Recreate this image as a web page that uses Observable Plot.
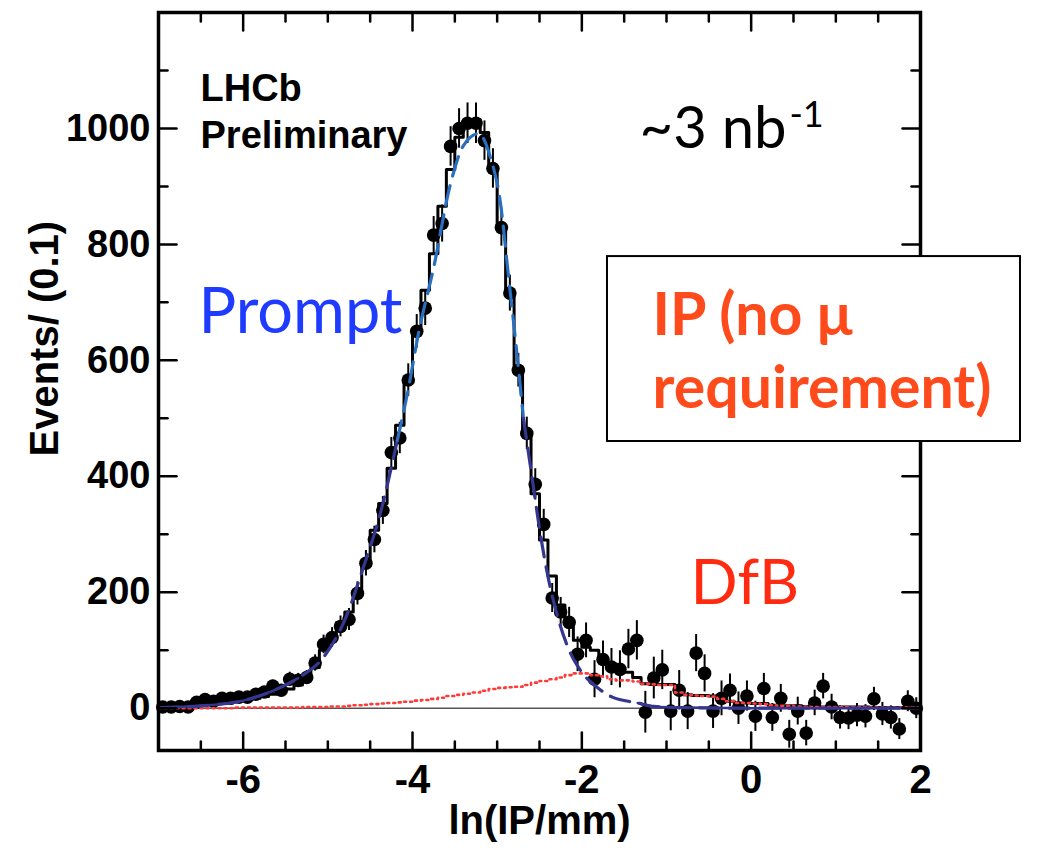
<!DOCTYPE html>
<html><head><meta charset="utf-8">
<script src="https://cdn.jsdelivr.net/npm/d3@7"></script>
<script src="https://cdn.jsdelivr.net/npm/@observablehq/plot@0.6"></script>
<style>html,body{margin:0;padding:0;background:#fff;}</style>
</head><body><div id="chart"></div>
<script>
// ---- data ----
const binStart = -7, binWidth = 0.1;
const dataCounts = [
  2,2,3,2,10,15,12,17,17,19,
  19,24,28,38,31,50,48,53,78,110,
  122,141,153,198,250,291,341,441,466,566,
  650,690,816,836,969,1000,1009,1009,979,931,
  829,716,583,474,386,317,190,166,148,93,
  117,50,84,71,67,102,117,-7,52,66,
  -5,31,-5,95,60,-5,17,31,0,21,
  -14,34,-16,17,-45,-5,-43,9,38,2,
  -16,-17,-12,-14,16,-10,-16,-36,12,0];
const dataErrors = [
  5,5,5,5,6,7,6,7,7,8,
  8,9,9,10,10,12,12,12,14,16,
  17,18,19,20,22,23,24,26,27,28,
  29,30,32,32,34,34,35,35,34,34,
  32,31,29,28,27,26,25,25,26,30,
  30,32,32,32,32,34,34,36,36,34,
  34,34,32,32,32,30,30,28,28,26,
  26,26,24,24,24,24,22,22,22,22,
  20,20,20,20,20,20,20,18,18,18];
const totalHist = [
  2,3,4,5,6,7,8,10,11,13,
  15,17,20,24,28,33,40,52,70,100,
  125,148,166,203,255,307,353,414,488,566,
  652,721,784,866,929,985,1005,1015,993,930,
  829,717,588,476,370,290,228,178,150,117,
  105,100,80,76,64,62,53,42,41,41,
  41,28,23,22,22,21,16,12,9,9,
  8,8,5,4,4,4,3,2,2,2,
  2,2,2,2,1,1,1,1,1,1];
const dfbHist = [
  0,0,0,0,0,0,0,0,0,1,
  1,1,1,1,1,1,1,2,2,2,
  3,3,4,5,6,7,8,9,10,11,
  13,14,16,18,21,23,25,27,30,33,
  35,36,37,40,44,47,50,53,57,60,
  60,57,55,50,48,48,46,42,41,40,
  40,27,23,22,21,20,16,12,9,9,
  8,7,5,4,4,3,3,2,2,2,
  2,2,2,2,1,1,1,1,1,1];
const fitX = [-7.0,-6.5,-6.0,-5.65,-5.35,-5.05,-4.8,-4.58,-4.38,-4.18,-4.05,-3.93,-3.75,-3.55,-3.4,-3.22,-3.08,-2.96,-2.87,-2.78,-2.69,-2.58,-2.49,-2.39,-2.28,-2.15,-2.02,-1.82,-1.64,-1.34,-1.15,-0.8,0,1,2];
const fitY = [1,4,13,30,52,88,152,243,336,462,550,646,760,905,970,991,950,870,750,630,500,390,300,220,155,100,66,36,19,9,3,1,0,0,0];
const xMajorTicks = [-6,-4,-2,0,2];
const xMinorTicks = [-6.5,-5.5,-5,-4.5,-3.5,-3,-2.5,-1.5,-1,-0.5,0.5,1,1.5];
const yMajorTicks = [0,200,400,600,800,1000];
const yMinorTicks = [100,300,500,700,900,1100];

// ---- derived tables ----
const xMin = -7, xMax = 2, yMin = -73, yMax = 1200;
const points = dataCounts.map((v, i) => ({x: binStart + (i + 0.5) * binWidth, y: v, e: dataErrors[i]}));
const stepTable = arr => arr.map((v, i) => ({x: binStart + i * binWidth, y: v}))
  .concat([{x: binStart + arr.length * binWidth, y: arr[arr.length - 1]}]);
const totalPts = stepTable(totalHist);
const dfbPts = stepTable(dfbHist);
const fitPts = fitX.map((x, i) => ({x, y: fitY[i]}));
const k1 = fitPts.findIndex(d => d.y >= 420);
let k2 = fitPts.length - 1; while (fitPts[k2].y < 420) k2--;
const fitLeft = fitPts.slice(0, k1 + 1), fitMid = fitPts.slice(k1, k2 + 1), fitRight = fitPts.slice(k2);

const tickShape = {draw(ctx, l) { ctx.moveTo(0, 0); ctx.lineTo(0, -l); }};
const tickMarks = (vals, len, side) => Plot.vector(vals, {
  x: side === "bottom" || side === "top" ? d => d : (side === "left" ? xMin : xMax),
  y: side === "left" || side === "right" ? d => d : (side === "bottom" ? yMin : yMax),
  length: len, rotate: {bottom: 0, top: 180, left: 90, right: 270}[side],
  anchor: "start", shape: tickShape, stroke: "black", strokeWidth: 2.5
});

const navy = "#35378f", steel = "#2a6fbd";
const sans = "'Liberation Sans', Arial, Helvetica, sans-serif";
const humanist = "Lato, 'Open Sans', sans-serif";

const chart = Plot.plot({
  width: 1053, height: 848,
  marginLeft: 158, marginRight: 133, marginTop: 12, marginBottom: 98,
  x: {domain: [xMin, xMax]},
  y: {domain: [yMin, yMax]},
  style: {fontFamily: sans, background: "#fff", color: "#000", overflow: "visible"},
  marks: [
    Plot.ruleY([0], {stroke: "black", strokeWidth: 1}),
    Plot.line(totalPts, {x: "x", y: "y", curve: "step-after", stroke: "black", strokeWidth: 3}),
    Plot.ruleX(points, {x: "x", y1: d => d.y - d.e, y2: d => d.y + d.e, stroke: "black", strokeWidth: 2}),
    Plot.dot(points, {x: "x", y: "y", r: 6.8, fill: "black"}),
    Plot.line(dfbPts, {x: "x", y: "y", curve: "step-after", stroke: "#ff3a3a", strokeWidth: 2.6, strokeDasharray: "2,4"}),
    Plot.line(fitPts.filter(d => d.x <= -5.3), {x: "x", y: "y", curve: "monotone-x", stroke: navy, strokeWidth: 2.5}),
    Plot.line(fitPts.filter(d => d.x >= -1.34), {x: "x", y: "y", curve: "monotone-x", stroke: navy, strokeWidth: 2.5}),
    Plot.line(fitLeft, {x: "x", y: "y", curve: "monotone-x", stroke: navy, strokeWidth: 3.2, strokeDasharray: "20,10"}),
    Plot.line(fitMid, {x: "x", y: "y", curve: "monotone-x", stroke: steel, strokeWidth: 3.2, strokeDasharray: "20,10"}),
    Plot.line(fitRight, {x: "x", y: "y", curve: "monotone-x", stroke: navy, strokeWidth: 3.2, strokeDasharray: "20,10"}),
    Plot.frame({stroke: "black", strokeWidth: 3.5}),
    tickMarks(xMajorTicks, 18, "bottom"), tickMarks(xMinorTicks, 9, "bottom"),
    tickMarks(xMajorTicks, 18, "top"), tickMarks(xMinorTicks, 9, "top"),
    tickMarks(yMajorTicks, 18, "left"), tickMarks(yMinorTicks, 9, "left"),
    tickMarks(yMajorTicks, 18, "right"), tickMarks(yMinorTicks, 9, "right"),
    Plot.axisX(xMajorTicks, {anchor: "bottom", tickSize: 0, tickPadding: 14, tickFormat: d => String(d), fontSize: 40, fontWeight: "bold", label: null}),
    Plot.axisY(yMajorTicks, {anchor: "left", tickSize: 0, tickPadding: 8, tickFormat: d => String(d), fontSize: 38, fontWeight: "bold", label: null}),
    Plot.text(["ln(IP/mm)"], {frameAnchor: "bottom", dy: 83, lineAnchor: "bottom", text: d => d, fontSize: 40, fontWeight: "bold"}),
    Plot.text(["Events/ (0.1)"], {frameAnchor: "left", dx: -113, dy: 75, rotate: -90, text: d => d, fontSize: 40, fontWeight: "bold"}),
    Plot.text(["LHCb"], {frameAnchor: "top-left", dx: 42, dy: 88, lineAnchor: "bottom", textAnchor: "start", text: d => d, fontSize: 38, fontWeight: "bold"}),
    Plot.text(["Preliminary"], {frameAnchor: "top-left", dx: 42, dy: 135, lineAnchor: "bottom", textAnchor: "start", text: d => d, fontSize: 38, fontWeight: "bold"}),
    Plot.text(["~3 nb"], {frameAnchor: "top-left", dx: 628, dy: 135, lineAnchor: "bottom", textAnchor: "end", text: d => d, fontSize: 58, fontFamily: humanist}),
    Plot.text(["-1"], {frameAnchor: "top-left", dx: 631, dy: 114, lineAnchor: "bottom", textAnchor: "start", text: d => d, fontSize: 36, fontFamily: humanist}),
    Plot.text(["Prompt"], {frameAnchor: "top-left", dx: 40, dy: 320, lineAnchor: "bottom", textAnchor: "start", text: d => d, fontSize: 63, fill: "#1f3bff", fontFamily: humanist}),
    Plot.text(["DfB"], {frameAnchor: "top-left", dx: 532, dy: 591, lineAnchor: "bottom", textAnchor: "start", text: d => d, fontSize: 62, fill: "#ff2a10", fontFamily: humanist}),
    Plot.rect([0], {x1: -1.697, x2: 3.181, y1: 460, y2: 779, fill: "white", stroke: "black", strokeWidth: 2}),
    Plot.text(["IP (no μ"], {frameAnchor: "top-left", dx: 494, dy: 322, lineAnchor: "bottom", textAnchor: "start", text: d => d, fontSize: 59, fontWeight: "bold", fill: "#ff4a1c", fontFamily: humanist}),
    Plot.text(["requirement)"], {frameAnchor: "top-left", dx: 494, dy: 395, lineAnchor: "bottom", textAnchor: "start", text: d => d, fontSize: 59, fontWeight: "bold", fill: "#ff4a1c", fontFamily: humanist})
  ]
});
document.getElementById("chart").appendChild(chart);
</script>
</body></html>
